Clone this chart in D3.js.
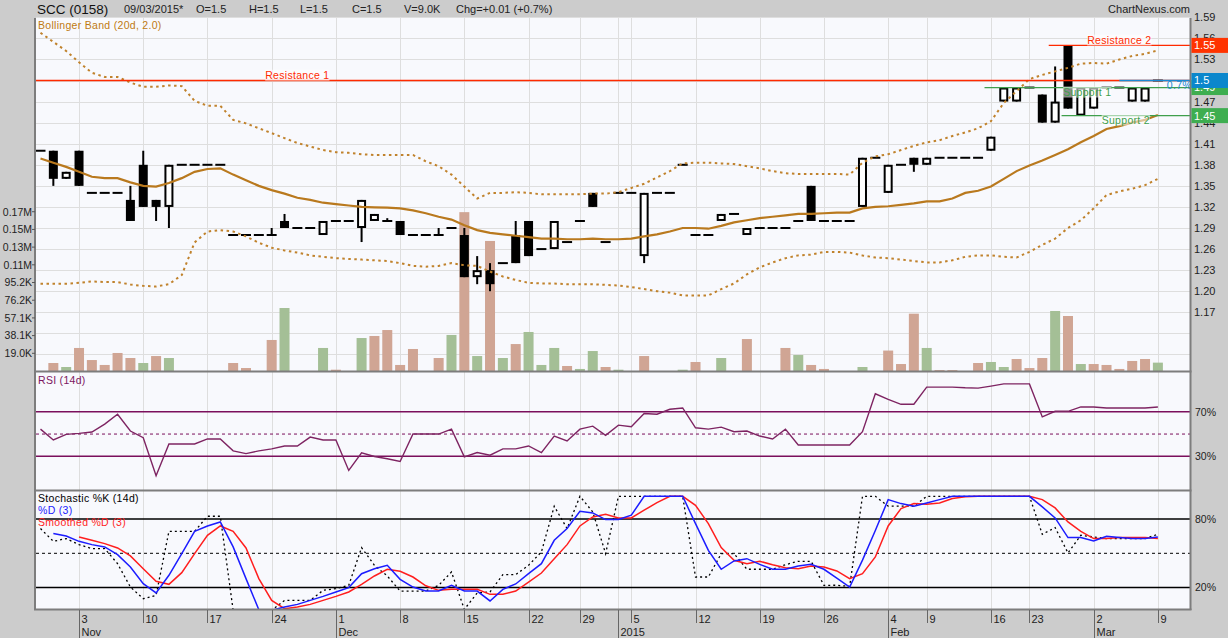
<!DOCTYPE html>
<html>
<head>
<meta charset="utf-8">
<script src="https://cdn.jsdelivr.net/npm/d3@7/dist/d3.min.js"></script>
<style>
  body { margin: 0; background: #cccccc; }
  svg text { font-family: "Liberation Sans", Arial, sans-serif; }
</style>
</head>
<body>
<script>
// ---- data (one entry per trading day) ----
const dates = [
  "2014-10-29","2014-10-30","2014-10-31",
  "2014-11-03","2014-11-04","2014-11-05","2014-11-06","2014-11-07",
  "2014-11-10","2014-11-11","2014-11-12","2014-11-13","2014-11-14",
  "2014-11-17","2014-11-18","2014-11-19","2014-11-20","2014-11-21",
  "2014-11-24","2014-11-25","2014-11-26","2014-11-27","2014-11-28",
  "2014-12-01","2014-12-02","2014-12-03","2014-12-04","2014-12-05",
  "2014-12-08","2014-12-09","2014-12-10","2014-12-11","2014-12-12",
  "2014-12-15","2014-12-16","2014-12-17","2014-12-18","2014-12-19",
  "2014-12-22","2014-12-23","2014-12-24","2014-12-26",
  "2014-12-29","2014-12-30","2014-12-31","2015-01-02",
  "2015-01-05","2015-01-06","2015-01-07","2015-01-08","2015-01-09",
  "2015-01-12","2015-01-13","2015-01-14","2015-01-15","2015-01-16",
  "2015-01-19","2015-01-20","2015-01-21","2015-01-22","2015-01-23",
  "2015-01-26","2015-01-27","2015-01-28","2015-01-29","2015-01-30",
  "2015-02-04","2015-02-05","2015-02-06",
  "2015-02-09","2015-02-10","2015-02-11","2015-02-12","2015-02-13",
  "2015-02-16","2015-02-17","2015-02-18",
  "2015-02-23","2015-02-24","2015-02-25","2015-02-26","2015-02-27",
  "2015-03-02","2015-03-03","2015-03-04","2015-03-05","2015-03-06",
  "2015-03-09"
];

const open = [1.40,1.40,1.36,
  1.40,1.34,1.34,1.34,1.33,1.38,1.33,1.32,1.38,1.38,
  1.38,1.38,1.28,1.28,1.28,1.28,1.30,1.29,1.29,1.28,
  1.30,1.30,1.29,1.30,1.30,1.30,1.28,1.28,1.28,1.29,
  1.28,1.22,1.23,1.24,1.28,1.30,1.26,1.26,1.27,1.30,
  1.34,1.27,1.34,1.34,1.25,1.34,1.34,1.38,1.28,1.28,
  1.30,1.31,1.28,1.29,1.29,1.29,1.30,1.35,1.30,1.30,
  1.30,1.32,1.39,1.34,1.38,1.39,1.38,1.39,1.39,1.39,
  1.39,1.40,1.47,1.47,1.49,1.48,1.44,1.55,1.45,1.46,
  1.49,1.49,1.47,1.47,1.50];
const high = [1.40,1.40,1.37,
  1.40,1.34,1.34,1.34,1.35,1.40,1.33,1.38,1.38,1.38,
  1.38,1.38,1.28,1.28,1.28,1.29,1.31,1.29,1.29,1.30,
  1.30,1.30,1.33,1.31,1.304,1.30,1.28,1.28,1.29,1.29,
  1.29,1.25,1.24,1.24,1.30,1.30,1.26,1.30,1.27,1.30,
  1.34,1.27,1.34,1.34,1.34,1.34,1.34,1.38,1.28,1.28,
  1.31,1.31,1.29,1.29,1.29,1.29,1.30,1.35,1.30,1.30,
  1.30,1.39,1.39,1.38,1.38,1.39,1.39,1.39,1.39,1.39,
  1.39,1.42,1.49,1.49,1.49,1.48,1.52,1.55,1.49,1.49,
  1.49,1.49,1.49,1.49,1.50];
const low = [1.40,1.35,1.36,
  1.35,1.34,1.34,1.34,1.30,1.32,1.30,1.29,1.38,1.38,
  1.38,1.38,1.28,1.28,1.28,1.28,1.29,1.29,1.29,1.28,
  1.30,1.30,1.27,1.30,1.30,1.28,1.28,1.28,1.28,1.29,
  1.22,1.21,1.20,1.24,1.24,1.25,1.26,1.26,1.27,1.30,
  1.32,1.27,1.34,1.34,1.24,1.34,1.34,1.38,1.28,1.28,
  1.30,1.31,1.28,1.29,1.29,1.29,1.30,1.30,1.30,1.30,
  1.30,1.32,1.39,1.34,1.38,1.37,1.38,1.39,1.39,1.39,
  1.39,1.40,1.47,1.47,1.49,1.44,1.44,1.46,1.45,1.46,
  1.49,1.49,1.47,1.47,1.50];
const close = [1.40,1.36,1.37,
  1.35,1.34,1.34,1.34,1.30,1.32,1.32,1.38,1.38,1.38,
  1.38,1.38,1.28,1.28,1.28,1.28,1.29,1.29,1.29,1.30,
  1.30,1.30,1.33,1.31,1.30,1.28,1.28,1.28,1.28,1.29,
  1.22,1.23,1.21,1.24,1.24,1.25,1.26,1.30,1.27,1.30,
  1.32,1.27,1.34,1.34,1.34,1.34,1.34,1.38,1.28,1.28,
  1.31,1.31,1.29,1.29,1.29,1.29,1.30,1.30,1.30,1.30,
  1.30,1.39,1.39,1.38,1.38,1.38,1.39,1.39,1.39,1.39,
  1.39,1.42,1.49,1.49,1.49,1.44,1.47,1.46,1.49,1.49,
  1.49,1.49,1.49,1.49,1.50];

// volume in thousands of shares
const volume = [0,8.6,4.3,
  24.8,11.8,6.5,19.4,14.0,8.6,16.1,14.0,0,0,
  0,0,8.6,3.2,0,33.4,67.8,0,0,24.8,
  1.4,0,35.5,37.7,44.1,6.5,23.7,0,14.0,38.8,
  171,16.1,140,14.0,29.0,42.0,6.5,24.8,5.4,2.2,
  21.5,4.3,1.4,0,16.1,0,0,1.4,9.7,0,
  14.0,0,34.4,0,0,24.8,17.2,6.5,2.2,0,
  0,4.3,0,22.0,7.5,61.7,24.8,1.0,1.0,0,
  8.6,9.7,4.3,12.9,3.2,14.0,64.6,59.2,7.5,7.5,
  6.5,2.2,10.8,12.9,9.0];

const bbMid = [1.389,1.383,1.377,
  1.370,1.363,1.361,1.361,1.355,1.350,1.349,1.354,1.361,1.370,
  1.374,1.375,1.366,1.358,1.350,1.344,1.339,1.333,1.330,1.326,
  1.324,1.322,1.320,1.3195,1.319,1.318,1.315,1.311,1.306,1.302,
  1.294,1.287,1.283,1.281,1.279,1.277,1.275,1.275,1.274,1.274,
  1.275,1.274,1.274,1.275,1.278,1.281,1.285,1.290,1.290,1.289,
  1.293,1.298,1.301,1.304,1.306,1.308,1.310,1.310,1.311,1.312,
  1.312,1.318,1.320,1.321,1.323,1.325,1.328,1.328,1.332,1.340,
  1.343,1.349,1.360,1.371,1.379,1.386,1.394,1.402,1.412,1.421,
  1.431,1.435,1.440,1.444,1.451];
const bbUpper = [1.568,1.555,1.542,
  1.526,1.511,1.505,1.505,1.497,1.491,1.491,1.493,1.492,1.471,
  1.464,1.464,1.444,1.439,1.432,1.425,1.418,1.411,1.406,1.401,
  1.398,1.397,1.395,1.394,1.394,1.394,1.394,1.385,1.378,1.366,
  1.349,1.332,1.340,1.340,1.341,1.340,1.338,1.338,1.338,1.338,
  1.339,1.339,1.341,1.347,1.353,1.362,1.371,1.382,1.383,1.383,
  1.382,1.381,1.378,1.375,1.371,1.368,1.367,1.367,1.367,1.367,
  1.366,1.383,1.392,1.395,1.401,1.407,1.412,1.415,1.421,1.426,
  1.432,1.442,1.468,1.485,1.502,1.508,1.513,1.518,1.524,1.525,
  1.524,1.530,1.535,1.538,1.543];
const bbLower = [1.2105,1.2105,1.2105,
  1.212,1.214,1.213,1.213,1.2095,1.2076,1.2067,1.210,1.223,1.2695,
  1.285,1.287,1.285,1.278,1.269,1.262,1.258,1.255,1.251,1.249,
  1.247,1.246,1.245,1.244,1.243,1.240,1.236,1.235,1.236,1.240,
  1.237,1.236,1.228,1.221,1.216,1.212,1.211,1.211,1.210,1.210,
  1.210,1.209,1.208,1.206,1.203,1.200,1.198,1.194,1.194,1.194,
  1.203,1.211,1.224,1.234,1.241,1.247,1.251,1.252,1.256,1.256,
  1.255,1.251,1.248,1.247,1.245,1.243,1.241,1.241,1.244,1.249,
  1.251,1.251,1.249,1.248,1.256,1.266,1.275,1.290,1.301,1.318,
  1.337,1.342,1.346,1.351,1.360];

const rsi = [54.4,44.7,49.7,
  50.6,51.8,58.9,67.8,52.7,46.7,12.7,41.1,41.1,41.1,
  45.6,45.6,34.9,32.5,34.9,36.7,39.3,39.3,47.3,44.7,
  44.7,17.4,33.1,29.9,27.8,25.4,50.0,50.0,50.0,54.4,
  29.6,33.4,31.0,36.7,36.7,39.3,33.4,48.2,43.8,54.4,
  57.1,48.8,58.0,56.5,68.4,67.8,72.2,73.4,55.6,54.4,
  56.2,52.1,52.7,48.2,45.6,54.4,40.2,40.2,40.2,40.2,
  40.2,52.1,86.1,81.1,76.7,76.7,92.1,92.1,92.1,91.5,
  91.2,93.0,95.0,95.0,95.0,65.4,70.4,70.4,74.3,74.3,
  73.4,73.4,73.4,73.4,74.3];

const stochK = [71.7,60.5,62.9,
  57.6,54.1,54.1,40.9,20.4,10.2,13.1,69.3,69.3,69.3,
  82.5,82.5,0,0,0,0,8.7,8.7,8.7,17.5,
  19.0,21.9,55.0,39.5,30.1,16.9,16.9,16.9,21.9,33.6,
  0.8,15.2,16.1,31.3,31.3,39.5,51.2,91.3,71.7,100,
  86.3,49.7,100,100,100,100,100,100,29.2,29.2,
  49.7,49.7,36.0,36.0,36.0,40.0,43.0,43.0,21.9,22.0,
  21.0,100,100,91.3,91.3,91.3,100,100,100,100,
  100,100,100,100,100,66.7,72.5,50.3,65.8,64.3,
  62.9,62.9,62.9,62.9,66.7];
const stochD = [null,67.3,65.2,
  60.5,57.6,55.6,48.8,38.0,23.4,15.2,30.7,49.7,69.3,
  74.0,77.5,55.6,27.8,0.5,0,2.9,5.2,8.7,12.2,
  16.1,19.9,32.1,36.5,39.5,27.2,20.4,16.9,16.9,21.9,
  16.9,16.9,8.2,18.4,23.1,32.1,40.9,61.4,71.7,86.9,
  85.4,79.6,79.6,83.4,100,100,100,100,76.0,52.6,
  36.0,43.3,45.3,40.3,36.0,36.0,38.9,40.3,36.0,28.3,
  20.4,44.0,70.0,97.1,93.6,91.3,94.2,97.1,100,100,
  100,100,100,100,100,90.7,81.0,63.8,63.8,60.8,
  64.9,63.8,62.9,62.9,64.3];
const stochSD = [null,null,null,
  64.3,61.4,58.5,54.7,47.7,36.5,25.4,22.8,33.0,49.7,
  65.8,74.0,69.3,54.7,27.8,8.7,1.4,2.9,5.2,8.7,
  12.2,16.1,22.8,30.1,36.0,34.2,29.2,21.5,17.5,18.4,
  18.4,18.4,14.0,14.0,16.9,24.8,32.7,45.3,57.6,74.0,
  81.9,84.2,81.0,81.0,87.8,94.5,100,100,92.1,76.0,
  55.0,43.9,40.9,43.0,40.0,37.4,36.5,38.9,38.0,34.5,
  27.8,32.1,46.8,74.0,89.2,93.6,93.0,94.2,98.0,99.5,
  100,100,100,100,100,97.1,89.8,77.5,69.3,62.9,
  62.9,63.8,63.8,63.8,62.9];

const priceGrid = [1.11,1.14,1.17,1.20,1.23,1.26,1.29,1.32,1.35,1.38,1.41,1.44,1.47,1.50,1.53,1.56,1.59];
// 1.50 sits under the last-price box, so it has no visible label
const priceLabels = [1.17,1.20,1.23,1.26,1.29,1.32,1.35,1.38,1.41,1.44,1.47,1.53,1.56,1.59];
const volTicks = [19.05,38.1,57.15,76.2,95.25,114.3,133.35,152.4,171.45];
const volTickLabels = ["19.0K","38.1K","57.1K","76.2K","95.2K","0.11M","0.13M","0.15M","0.17M"];
const rsiLevels = [70, 30];
const stochLevels = [80, 20];

const levelNames = ["Resistance 1", "Resistance 2", "Support 1", "Support 2"];
const levelValues = [1.50, 1.55, 1.49, 1.45];
const levelFrom = ["2014-10-29", "2015-02-25", "2015-02-16", "2015-02-26"];

// ---- layout ----
const width = 1228, height = 638;
const left = 36, right = 1190;
const mainTop = 18, mainBottom = 371;
const rsiTop = 372, rsiBottom = 490;
const stoTop = 491, stoBottom = 609;

const x = d3.scaleLinear().domain([-0.35, 89.5]).range([left, right]);
const y = d3.scaleLinear().domain([1.0864, 1.589]).range([mainBottom, mainTop]);
const yVol = d3.scaleLinear().domain([0, 380]).range([mainBottom, mainTop]);
const yRsi = d3.scaleLinear().domain([0, 100]).range([489.8, 378.3]);
const ySto = d3.scaleLinear().domain([0, 100]).range([610.3, 496.3]);

const svg = d3.select("body").append("svg")
  .attr("width", width).attr("height", height);

svg.append("rect").attr("width", width).attr("height", height).attr("fill", "#cccccc");

const defs = svg.append("defs");
[["clipMain", mainTop, mainBottom], ["clipRsi", rsiTop, rsiBottom], ["clipSto", stoTop, stoBottom]]
  .forEach(([id, t, b]) => {
    defs.append("clipPath").attr("id", id).append("rect")
      .attr("x", left).attr("y", t).attr("width", right - left).attr("height", b - t);
  });

// panel backgrounds
[[mainTop, mainBottom], [rsiTop, rsiBottom], [stoTop, stoBottom]].forEach(([t, b]) => {
  svg.append("rect").attr("x", left).attr("y", t).attr("width", right - left).attr("height", b - t)
    .attr("fill", "#f8f9fd");
});

// date ticks: first trading day of each week / month
const parse = d3.timeParse("%Y-%m-%d");
const days = dates.map(parse);
const ticks = [];
days.forEach((d, i) => {
  if (i === 0) return;
  const p = days[i - 1];
  const newWeek = +d3.timeMonday.floor(d) !== +d3.timeMonday.floor(p);
  const newMonth = d.getMonth() !== p.getMonth();
  if (newWeek || newMonth) ticks.push({ i, d, newWeek, newMonth });
});

// grid
const grid = svg.append("g").attr("stroke", "#dedede").attr("stroke-width", 1);
priceGrid.forEach(p => {
  grid.append("line").attr("x1", left).attr("x2", right)
    .attr("y1", Math.round(y(p)) + 0.5).attr("y2", Math.round(y(p)) + 0.5);
});
ticks.forEach(t => {
  const xx = Math.round(x(t.i)) + 0.5;
  [[mainTop, mainBottom], [rsiTop, rsiBottom], [stoTop, stoBottom]].forEach(([a, b]) => {
    grid.append("line").attr("x1", xx).attr("x2", xx).attr("y1", a).attr("y2", b);
  });
});

// volume bars
const main = svg.append("g").attr("clip-path", "url(#clipMain)");
main.append("g").selectAll("rect")
  .data(volume.map((v, i) => ({ v, i })).filter(d => d.v > 0))
  .join("rect")
  .attr("x", d => x(d.i) - 5)
  .attr("width", 10)
  .attr("y", d => yVol(d.v))
  .attr("height", d => yVol(0) - yVol(d.v))
  .attr("fill", d => (d.i > 0 && close[d.i] > close[d.i - 1]) ? "#a4bf96" : "#d0a594");

// candles
const cg = main.append("g").attr("stroke", "#000").attr("stroke-width", 2);
dates.forEach((_, i) => {
  const cx = x(i), o = open[i], h = high[i], l = low[i], c = close[i];
  if (h !== l) {
    cg.append("line").attr("x1", cx).attr("x2", cx).attr("y1", y(h)).attr("y2", y(l));
  }
  if (o === c) {
    cg.append("line").attr("x1", cx - 5).attr("x2", cx + 5).attr("y1", y(c)).attr("y2", y(c));
  } else if (c < o) {
    cg.append("rect").attr("x", cx - 4.5).attr("width", 9)
      .attr("y", y(o)).attr("height", y(c) - y(o))
      .attr("fill", "#000").attr("stroke", "none");
  } else {
    cg.append("rect").attr("x", cx - 3.5).attr("width", 7)
      .attr("y", y(c) + 1).attr("height", y(o) - y(c) - 2)
      .attr("fill", "#fff");
  }
});

// Bollinger bands
const bbLine = d3.line().x((d, i) => x(i)).y(d => y(d));
main.append("path").attr("d", bbLine(bbUpper)).attr("fill", "none")
  .attr("stroke", "#c0822c").attr("stroke-width", 2).attr("stroke-dasharray", "2.5,3.5");
main.append("path").attr("d", bbLine(bbLower)).attr("fill", "none")
  .attr("stroke", "#c0822c").attr("stroke-width", 2).attr("stroke-dasharray", "2.5,3.5");
main.append("path").attr("d", bbLine(bbMid)).attr("fill", "none")
  .attr("stroke", "#b9791e").attr("stroke-width", 2.2);

// support / resistance lines
const last = dates.length - 1;
levelNames.forEach((name, k) => {
  const isRes = name.startsWith("Resistance");
  const col = isRes ? "#ff2a00" : "#3f9f4c";
  const yy = y(levelValues[k]);
  const x0 = Math.max(left, x(dates.indexOf(levelFrom[k]) - 0.5));
  main.append("line").attr("x1", x0).attr("x2", right).attr("y1", yy).attr("y2", yy)
    .attr("stroke", col).attr("stroke-width", 1.3);
  const cx = name === "Resistance 1" ? x(dates.indexOf("2014-11-26")) : (x0 + right) / 2;
  const ty = isRes ? yy - 1.8 : yy + 8;
  const bg = main.append("rect").attr("fill", "#ffffff").attr("opacity", 0.55);
  const t = main.append("text").attr("x", cx).attr("y", ty).attr("text-anchor", "middle")
    .attr("font-size", "10.5px").attr("fill", col).attr("letter-spacing", "0.3px").text(name);
  const bb = t.node().getBBox();
  bg.attr("x", bb.x).attr("y", bb.y + 1).attr("width", bb.width).attr("height", bb.height - 1);
});

// last price line
const chgPct = (close[last] - close[last - 1]) / close[last - 1] * 100;
main.append("line").attr("x1", x(last - 3)).attr("x2", right)
  .attr("y1", y(close[last])).attr("y2", y(close[last]))
  .attr("stroke", "#1a8ad4").attr("stroke-width", 1.3);
main.append("text").attr("x", right + 2).attr("y", y(close[last]) + 8.5).attr("text-anchor", "end")
  .attr("font-size", "10.5px").attr("fill", "#1a8ad4").attr("letter-spacing", "0.3px")
  .text(d3.format(".1f")(chgPct) + "%");

// Bollinger legend
svg.append("text").attr("x", 38).attr("y", 29).attr("font-size", "10.5px")
  .attr("fill", "#bf7a12").attr("letter-spacing", "0.3px").text("Bollinger Band (20d, 2.0)");

// ---- RSI panel ----
const rsiG = svg.append("g").attr("clip-path", "url(#clipRsi)");
rsiLevels.forEach(v => {
  rsiG.append("line").attr("x1", left).attr("x2", right).attr("y1", yRsi(v)).attr("y2", yRsi(v))
    .attr("stroke", "#7b0f5c").attr("stroke-width", 1.5);
});
rsiG.append("line").attr("x1", left).attr("x2", right).attr("y1", yRsi(50)).attr("y2", yRsi(50))
  .attr("stroke", "#7b0f5c").attr("stroke-width", 1).attr("stroke-dasharray", "3,3");
rsiG.append("path").attr("d", d3.line().x((d, i) => x(i)).y(d => yRsi(d))(rsi))
  .attr("fill", "none").attr("stroke", "#7e2462").attr("stroke-width", 1.4);
svg.append("text").attr("x", 38).attr("y", 384).attr("font-size", "10.5px")
  .attr("fill", "#7b1660").attr("letter-spacing", "0.3px").text("RSI (14d)");

// ---- Stochastic panel ----
const stoG = svg.append("g").attr("clip-path", "url(#clipSto)");
stochLevels.forEach(v => {
  stoG.append("line").attr("x1", left).attr("x2", right).attr("y1", ySto(v)).attr("y2", ySto(v))
    .attr("stroke", "#000").attr("stroke-width", 1.5);
});
stoG.append("line").attr("x1", left).attr("x2", right).attr("y1", ySto(50)).attr("y2", ySto(50))
  .attr("stroke", "#000").attr("stroke-width", 1).attr("stroke-dasharray", "3,3");
const stoLine = d3.line().defined(d => d != null).x((d, i) => x(i)).y(d => ySto(d));
stoG.append("path").attr("d", stoLine(stochK)).attr("fill", "none")
  .attr("stroke", "#000").attr("stroke-width", 1.3).attr("stroke-dasharray", "2,3");
stoG.append("path").attr("d", stoLine(stochSD)).attr("fill", "none")
  .attr("stroke", "#ff1e1e").attr("stroke-width", 1.5);
stoG.append("path").attr("d", stoLine(stochD)).attr("fill", "none")
  .attr("stroke", "#1c1cff").attr("stroke-width", 1.5);
[["Stochastic %K (14d)", "#000", 502], ["%D (3)", "#1c1cff", 514], ["Smoothed %D (3)", "#ff1e1e", 526]]
  .forEach(([t, c, yy]) => {
    svg.append("text").attr("x", 38).attr("y", yy).attr("font-size", "10.5px")
      .attr("fill", c).attr("letter-spacing", "0.3px").text(t);
  });

// ---- frame ----
const frame = svg.append("g").attr("stroke", "#7d7d7d").attr("stroke-width", 2);
frame.append("line").attr("x1", left - 1).attr("x2", left - 1).attr("y1", mainTop).attr("y2", stoBottom + 1);
frame.append("line").attr("x1", right + 0.5).attr("x2", right + 0.5).attr("y1", mainTop).attr("y2", stoBottom + 1);
[mainBottom + 0.5, rsiBottom + 0.5, stoBottom + 0.5].forEach(yy => {
  frame.append("line").attr("x1", left - 2).attr("x2", right + 1.5).attr("y1", yy).attr("y2", yy);
});

// ---- right axis labels ----
priceLabels.forEach(p => {
  svg.append("text").attr("x", 1194).attr("y", y(p)).attr("dy", "0.36em")
    .attr("font-size", "11px").attr("fill", "#222").text(d3.format(".2f")(p));
});
rsiLevels.forEach(v => {
  svg.append("text").attr("x", 1195).attr("y", yRsi(v)).attr("dy", "0.36em")
    .attr("font-size", "10.5px").attr("fill", "#222").text(v + "%");
});
stochLevels.forEach(v => {
  svg.append("text").attr("x", 1195).attr("y", ySto(v)).attr("dy", "0.36em")
    .attr("font-size", "10.5px").attr("fill", "#222").text(v + "%");
});

// level value boxes on the price axis (a level equal to the last close is hidden by its box)
const boxes = levelNames.map((n, k) => ({
  v: levelValues[k], c: n.startsWith("Resistance") ? "#ff3300" : "#3eae50"
})).filter(b => b.v !== close[last]);
boxes.push({ v: close[last], c: "#0b87cc" });
boxes.forEach(b => {
  svg.append("rect").attr("x", right + 1.5).attr("y", y(b.v) - 7.5).attr("width", width - right)
    .attr("height", 15).attr("fill", b.c);
  svg.append("text").attr("x", 1194).attr("y", y(b.v)).attr("dy", "0.36em")
    .attr("font-size", "11px").attr("fill", "#fff").text(d3.format("~g")(b.v));
});

// ---- volume axis ----
volTicks.forEach((v, k) => {
  svg.append("line").attr("x1", 32).attr("x2", 35).attr("y1", yVol(v)).attr("y2", yVol(v))
    .attr("stroke", "#555");
  svg.append("text").attr("x", 32).attr("y", yVol(v)).attr("dy", "0.36em").attr("text-anchor", "end")
    .attr("font-size", "10.5px").attr("fill", "#222").text(volTickLabels[k]);
});

// ---- date axis ----
const fmtMonth = d => d.getMonth() === 0 ? d3.timeFormat("%Y")(d) : d3.timeFormat("%b")(d);
ticks.forEach(t => {
  const xx = Math.round(x(t.i)) + 0.5;
  svg.append("line").attr("x1", xx).attr("x2", xx).attr("y1", stoBottom + 1)
    .attr("y2", t.newMonth ? height : 623).attr("stroke", "#666");
  if (t.newWeek) {
    svg.append("text").attr("x", xx + 2).attr("y", 623).attr("font-size", "11px")
      .attr("fill", "#222").text(t.d.getDate());
  }
  if (t.newMonth) {
    svg.append("text").attr("x", xx + 2).attr("y", 636).attr("font-size", "11px")
      .attr("fill", "#222").text(fmtMonth(t.d));
  }
});

// ---- header ----
const fmtV = d3.format("~g");
const chg = close[last] - close[last - 1];
const header = [
  [124, d3.timeFormat("%d/%m/%Y")(days[last]) + "*"],
  [196, "O=" + fmtV(open[last])],
  [249, "H=" + fmtV(high[last])],
  [300, "L=" + fmtV(low[last])],
  [352, "C=" + fmtV(close[last])],
  [404, "V=" + d3.format(".1f")(volume[last]) + "K"],
  [456, "Chg=" + d3.format("+.2f")(chg) + " (" + d3.format("+.1f")(chgPct) + "%)"]
];
svg.append("text").attr("x", 37).attr("y", 14).attr("font-size", "13.5px").attr("fill", "#111")
  .text("SCC (0158)");
header.forEach(([xx, t]) => {
  svg.append("text").attr("x", xx).attr("y", 13).attr("font-size", "11px").attr("fill", "#222").text(t);
});
svg.append("text").attr("x", right).attr("y", 13).attr("text-anchor", "end")
  .attr("font-size", "11px").attr("fill", "#222").text("ChartNexus.com");
</script>
</body>
</html>
